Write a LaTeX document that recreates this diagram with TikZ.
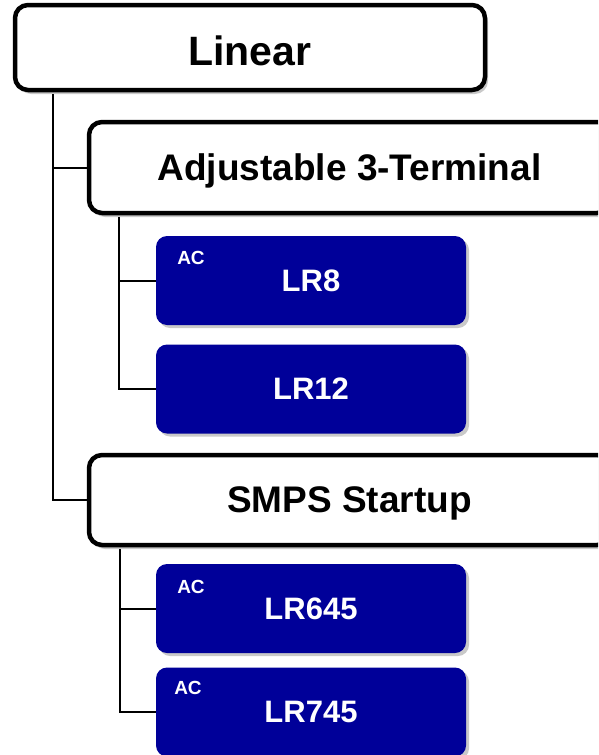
\documentclass[tikz,border=0pt]{standalone}
\usepackage{fontspec}
\setmainfont{Liberation Sans}
\usetikzlibrary{shadows,calc}
\definecolor{boxblue}{RGB}{0,0,153}
\tikzset{
  catbox/.style={draw=black, line width=4.5pt, fill=white, rounded corners=13pt,
    drop shadow={shadow xshift=3pt, shadow yshift=-4pt, opacity=0.35, fill=black!60},
    inner sep=0pt, font=\bfseries},
  partbox/.style={fill=boxblue, rounded corners=11pt, text=white,
    drop shadow={shadow xshift=3pt, shadow yshift=-3pt, opacity=0.35, fill=black!60},
    inner sep=0pt, font=\fontsize{31}{31}\selectfont\bfseries,
    minimum width=310pt, minimum height=89pt},
  aclabel/.style={text=white, inner sep=0pt, font=\fontsize{19}{19}\selectfont\bfseries},
  conn/.style={draw=black, line width=2pt}
}
\begin{document}
\begin{tikzpicture}[x=1pt,y=-1pt]
\useasboundingbox (0,0) rectangle (598,755);
\clip (0,0) rectangle (598,755);
\fill[white] (0,0) rectangle (598,755);
\node[catbox, minimum width=470pt, minimum height=85pt, text height=36pt,
  font=\fontsize{41}{41}\selectfont\bfseries] (lin) at (250,47.5) {Linear};
\node[catbox, minimum width=521pt, minimum height=91pt, text height=33pt,
  font=\fontsize{37}{37}\selectfont\bfseries] (adj) at (349.5,167.5) {Adjustable 3-Terminal};
\node[catbox, minimum width=521pt, minimum height=90pt, text height=33pt,
  font=\fontsize{37}{37}\selectfont\bfseries] (smps) at (349.5,500) {SMPS Startup};
\node[partbox] (lr8) at (311,280.5) {LR8};
\node[partbox] (lr12) at (311,389) {LR12};
\node[partbox] (lr645) at (311,608.5) {LR645};
\node[partbox] (lr745) at (311,712) {LR745};
\node[aclabel] (ac8) at (191,258) {AC};
\node[aclabel] (ac645) at (191,587) {AC};
\node[aclabel] (ac745) at (188,688) {AC};
\coordinate (trunk) at ($(lin.south west)+(40,2)$);
\coordinate (adjtrunk) at ($(adj.south west)+(32,2)$);
\coordinate (smpstrunk) at ($(smps.south west)+(33,2)$);
\draw[conn] (trunk) |- (adj.west);
\draw[conn] (trunk) |- (smps.west);
\draw[conn] (adjtrunk) |- (lr8.west);
\draw[conn] (adjtrunk) |- (lr12.west);
\draw[conn] (smpstrunk) |- (lr645.west);
\draw[conn] (smpstrunk) |- (lr745.west);
\end{tikzpicture}
\end{document}
